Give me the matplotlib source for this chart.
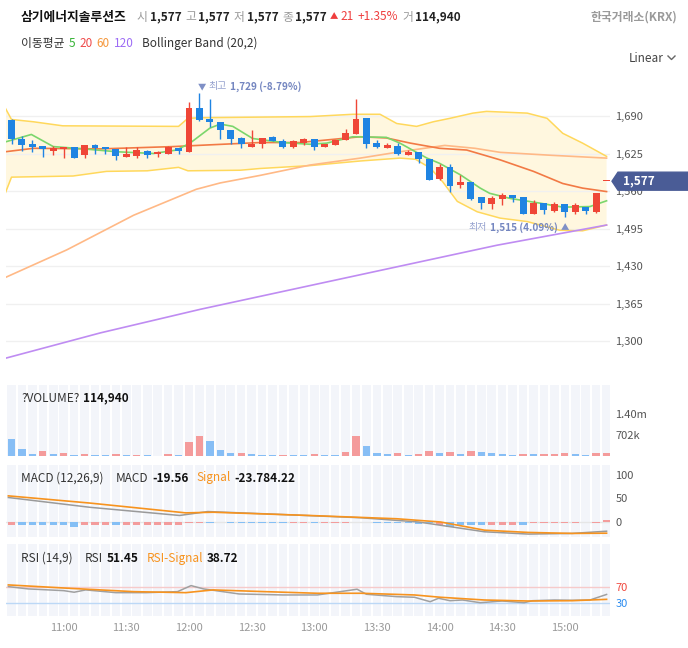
import matplotlib
matplotlib.use("Agg")
import matplotlib.pyplot as plt
from matplotlib.transforms import IdentityTransform
from matplotlib.patches import Polygon
from matplotlib.lines import Line2D
import numpy as np

plt.rcParams['font.family'] = ['Noto Sans CJK KR', 'DejaVu Sans']

# ---- data (5-minute candles, 10:35 .. 15:20) ----
opens = [1683, 1650, 1641, 1638, 1630, 1632, 1636, 1622, 1640, 1636,
         1632, 1619, 1621, 1629, 1625, 1625, 1635, 1628, 1704, 1684,
         1680, 1666, 1651, 1636, 1642, 1654, 1647, 1636, 1643, 1650,
         1636, 1640, 1648, 1659, 1687, 1643, 1634, 1638, 1622, 1628,
         1615, 1581, 1601, 1570, 1575, 1549, 1537, 1547, 1553, 1550,
         1520, 1539, 1525, 1538, 1524, 1533, 1524, 1577]
highs = [1685, 1656, 1648, 1638, 1638, 1636, 1636, 1639, 1641, 1636,
         1632, 1636, 1636, 1631, 1629, 1638, 1635, 1715, 1729, 1719,
         1680, 1666, 1654, 1665, 1652, 1656, 1651, 1648, 1652, 1650,
         1642, 1648, 1667, 1719, 1687, 1648, 1643, 1643, 1631, 1628,
         1615, 1606, 1606, 1587, 1575, 1549, 1551, 1556, 1553, 1550,
         1544, 1539, 1541, 1538, 1539, 1533, 1557, 1577]
lows = [1641, 1630, 1628, 1619, 1622, 1617, 1618, 1617, 1624, 1624,
        1614, 1619, 1618, 1617, 1619, 1625, 1625, 1628, 1681, 1671,
        1650, 1642, 1634, 1636, 1635, 1647, 1634, 1634, 1639, 1631,
        1636, 1640, 1648, 1659, 1634, 1634, 1634, 1622, 1622, 1609,
        1579, 1579, 1559, 1565, 1544, 1529, 1529, 1536, 1541, 1520,
        1520, 1520, 1523, 1515, 1520, 1520, 1522, 1577]
closes = [1650, 1640, 1636, 1633, 1635, 1636, 1618, 1639, 1635, 1632,
          1621, 1624, 1631, 1622, 1628, 1636, 1630, 1704, 1683, 1679,
          1665, 1651, 1641, 1642, 1652, 1647, 1636, 1647, 1650, 1637,
          1642, 1648, 1661, 1685, 1641, 1636, 1640, 1625, 1628, 1615,
          1579, 1601, 1569, 1576, 1547, 1539, 1548, 1553, 1548, 1521,
          1540, 1527, 1538, 1524, 1535, 1525, 1557, 1577]

# moving averages / bollinger band: (candle index, price)
ma5_x = [-0.6, 1.9, 4.0, 6.9, 10.1, 13.6, 15.8, 17.1, 19.0, 20.0, 21.2, 23.1, 26.0,
         28.6, 30.2, 32.7, 35.9, 37.2, 39.8, 41.0, 43.0, 44.9, 45.8, 47.8, 50.6,
         52.8, 55.4, 57.0]
ma5_y = [1645, 1658, 1637, 1633, 1628, 1625, 1631, 1643, 1669, 1676, 1672, 1651, 1644,
         1641, 1643, 1654, 1653, 1643, 1617, 1608, 1588, 1565, 1556, 1547, 1539,
         1532, 1533, 1543]
ma20_x = [-0.6, 2.1, 8.5, 15.5, 19.0, 23.8, 27.6, 33.4, 35.9, 38.2, 41.0, 43.6,
          46.8, 50.0, 52.8, 54.7, 57.0]
ma20_y = [1628, 1634, 1633, 1637, 1640, 1644, 1644, 1654, 1652, 1643, 1634, 1631,
          1614, 1594, 1573, 1565, 1559]
ma60_x = [-0.6, 5.3, 11.7, 17.7, 20.0, 23.8, 28.6, 33.4, 37.2, 41.5, 44.4, 46.8, 51.6, 57.0]
ma60_y = [1410, 1458, 1518, 1563, 1574, 1587, 1605, 1617, 1628, 1639, 1634, 1627, 1622, 1617]
ma120_x = [-0.6, 8.5, 18.1, 29.6, 46.5, 57.0]
ma120_y = [1270, 1314, 1355, 1400, 1466, 1501]
bb_up_x = [-0.6, 0.0, 2.1, 4.9, 16.0, 16.9, 18.1, 28.6, 32.7, 35.3, 36.9, 38.8, 40.4,
           42.0, 44.2, 45.5, 49.4, 51.3, 52.8, 54.7, 57.0]
bb_up_y = [1704, 1684, 1680, 1673, 1672, 1686, 1687, 1689, 1693, 1693, 1677, 1672, 1680,
           1686, 1695, 1698, 1695, 1686, 1660, 1643, 1620]
bb_lo_x = [-0.6, 0.0, 5.9, 9.1, 13.0, 16.0, 16.9, 21.9, 23.8, 28.6, 33.4, 37.2, 38.7,
           40.1, 41.3, 42.7, 44.6, 46.8, 49.4, 52.5, 54.7, 57.0]
bb_lo_y = [1556, 1584, 1586, 1594, 1595, 1601, 1595, 1596, 1599, 1604, 1612, 1617, 1615,
           1600, 1576, 1542, 1524, 1513, 1507, 1492, 1491, 1501]

volumes = [566, 227, 68, 170, 68, 102, 34, 68, 34, 34,
           68, 34, 34, 34, 8, 68, 34, 464, 678, 498,
           203, 112, 112, 78, 34, 34, 34, 34, 34, 68,
           34, 34, 136, 678, 329, 102, 68, 102, 34, 68,
           159, 102, 136, 68, 159, 136, 102, 68, 34, 68,
           68, 68, 68, 102, 68, 34, 102, 115]  # thousands
vol_colors = "BBBRBRBRBB" "RBRBBRBRRB" "BBRBBBRBBR" "BBRRBBBRBR" "RBRBRBBBBR" "BRRRBBRR"

macd_hist = [-6, -6, -6, -6, -6, -6, -10, -6, -6, -6,
             -6, -6, -6, -6, -6, -6, -6, -1.5, -1.5, -1.5,
             -0.5, -1.5, -1.5, -1.5, -1.5, -1.5, -1.5, -1.5, -1.5, -1.5,
             -1.5, -1.5, -1.5, -0.3, -0.3, -1.5, -1.5, -1.5, -2.5, -4,
             -2.5, -7, -10, -6, -6, -6, -6, -6, -6, -6,
             -2, -2, -2, -2, -2, -0.3, -1.5, 5]
hist_colors = "RBBBBBBRRR" "BRRRRRRRRB" "BBBBBBBRRB" "RRRRBBBBBB" "BRBBBBRRRB" "RRRRRRRR"
macd_x = [-0.3, 7.5, 16.1, 18.8, 24.3, 33.5, 39.0, 45.3, 49.5, 53.7, 57.0]
macd_y = [52.1, 31.3, 13.9, 22.2, 17.4, 9.0, 0.0, -20.8, -25.7, -24.3, -19.56]
signal_x = [-0.3, 7.5, 16.7, 19.3, 28.5, 36.9, 41.1, 45.3, 49.5, 53.7, 57.0]
signal_y = [55.6, 40.3, 19.4, 20.8, 13.9, 6.9, 0.0, -17.4, -22.2, -24.3, -23.8]

rsi_x = [-0.3, 1.6, 5.0, 6.0, 7.1, 10.0, 12.9, 15.9, 17.2, 18.4, 21.8, 26.0, 29.3,
         33.1, 34.0, 36.9, 38.6, 40.1, 40.9, 42.0, 43.2, 44.9, 47.0, 49.1, 49.9,
         52.0, 53.7, 55.4, 57.0]
rsi_y = [71.8, 65.8, 61.3, 57.2, 63.2, 56.1, 56.1, 58.7, 74.4, 65.8, 52.7, 50.1, 50.1,
         65.0, 51.9, 45.7, 44.1, 32.6, 41.5, 35.2, 37.0, 30.0, 34.4, 30.0, 35.2,
         37.0, 36.3, 37.0, 51.45]
rsi_sig_x = [-0.3, 5.4, 11.7, 16.7, 19.3, 24.3, 29.3, 33.5, 38.6, 41.1, 45.3, 49.5, 53.7, 57.0]
rsi_sig_y = [76.2, 67.6, 58.7, 56.1, 63.2, 58.7, 54.5, 54.5, 50.1, 44.1, 37.0, 34.4, 35.2, 38.72]

time_ticks = [5, 11, 17, 23, 29, 35, 41, 47, 53]
time_labels = ["11:00", "11:30", "12:00", "12:30", "13:00", "13:30", "14:00", "14:30", "15:00"]
price_ticks = [1300, 1365, 1430, 1495, 1560, 1625, 1690]
last_price = 1577

# ---- colours ----
UP, DOWN = '#ef4637', '#1f84e2'
VOL_UP, VOL_DN = '#f49b9b', '#87bef5'
STRIPE = '#f3f5fa'

W, H = 688, 648
fig = plt.figure(figsize=(6.88, 6.48), dpi=100)
renderer = fig.canvas.get_renderer()

X_LEFT, X_RIGHT = 6, 610
XMIN = (X_LEFT - 11.5) / 10.44
XMAX = (X_RIGHT - 11.5) / 10.44


def add_ax(top, bottom):
    ax = fig.add_axes([X_LEFT / W, 1 - bottom / H, (X_RIGHT - X_LEFT) / W, (bottom - top) / H])
    ax.set_xlim(XMIN, XMAX)
    for s in ax.spines.values():
        s.set_visible(False)
    ax.yaxis.tick_right()
    ax.tick_params(axis='y', length=0, pad=4, labelsize=8, labelcolor='#555555')
    ax.tick_params(axis='x', length=0, labelbottom=False)
    return ax


def stripes(ax, lo, hi):
    idx = np.arange(-1, len(closes) + 1)
    ax.bar(idx, hi - lo, bottom=lo, width=0.82, color=STRIPE, zorder=0)
    ax.set_ylim(lo, hi)


def row(x, y, pieces, ha='left', size=8.5):
    # pieces: (text, colour, weight, gap_after[, size])
    arts, cx = [], 0
    for p in pieces:
        s, col, wt, gap = p[:4]
        fs = p[4] if len(p) > 4 else size
        t = fig.text(0, 0, s, color=col, fontweight=wt, fontsize=fs, va='center',
                     ha='left', transform=IdentityTransform())
        w = t.get_window_extent(renderer).width
        arts.append((t, cx))
        cx += w + gap
    total = cx - pieces[-1][3]
    x0 = x - total if ha == 'right' else x
    for t, off in arts:
        t.set_position((x0 + off, H - y))


def to_ref(ax, x, y):
    dx, dy = ax.transData.transform((x, y))
    return dx, H - dy


# ---- price panel ----
ax = add_ax(72, 378)
ax.set_ylim(1690 - (378 - 116) * 390 / 225, 1690 + (116 - 72) * 390 / 225)
ax.set_yticks(price_ticks)
ax.set_yticklabels([f"{v:,}" for v in price_ticks])
for v in price_ticks:
    ax.axhline(v, color='#f0f0f0', lw=1, zorder=1.5)

ax.fill(bb_up_x + bb_lo_x[::-1], bb_up_y + bb_lo_y[::-1], color='#fff7df', lw=0, zorder=1)
ax.plot(bb_up_x, bb_up_y, color='#ffd85c', lw=1.1, zorder=2)
ax.plot(bb_lo_x, bb_lo_y, color='#ffd85c', lw=1.1, zorder=2)
ax.plot(ma120_x, ma120_y, color='#bf8cf2', lw=1.2, zorder=2)
ax.plot(ma60_x, ma60_y, color='#ffb986', lw=1.2, zorder=2)
ax.plot(ma20_x, ma20_y, color='#f27a45', lw=1.2, zorder=2.2)
ax.plot(ma5_x, ma5_y, color='#7bd66c', lw=1.2, zorder=2.3)

o, h, l, c = map(np.array, (opens, highs, lows, closes))
x = np.arange(len(c))
cols = np.where(c >= o, UP, DOWN)
ax.vlines(x, l, h, colors=cols, lw=1, zorder=4)
ax.bar(x, np.maximum(np.abs(c - o), 2), bottom=np.minimum(o, c), width=0.66,
       color=cols, zorder=5)

# high / low labels
hi_i = int(np.argmax(h))
lo_i = int(np.argmin(l))
hx, hy = to_ref(ax, hi_i, h[hi_i])
row(hx - 2, hy - 7, [("▼", '#7f90c6', 'normal', 3, 6), ("최고", '#97a3cf', 'normal', 3),
                     (f"{h[hi_i]:,} (-8.79%)", '#7486c0', 'bold', 0)], size=7.2)
lx, ly = to_ref(ax, lo_i, l[lo_i])
row(lx + 4, ly + 10.5, [("최저", '#97a3cf', 'normal', 3),
                        (f"{l[lo_i]:,} (4.09%)", '#7486c0', 'bold', 3),
                        ("▲", '#7f90c6', 'normal', 0, 6)], ha='right', size=7.2)

# current price tag
_, ty = to_ref(ax, 0, last_price)
tag = [(612, ty), (618, ty - 9), (688, ty - 9), (688, ty + 9), (618, ty + 9)]
fig.add_artist(Polygon([(px, H - py) for px, py in tag], closed=True, color='#4a5c96',
                       transform=IdentityTransform(), zorder=10))
fig.text(623, H - ty, f"{last_price:,}", color='white', fontweight='bold', fontsize=8.5,
         va='center', ha='left', transform=IdentityTransform(), zorder=11)

# ---- volume ----
axv = add_ax(385, 456)
stripes(axv, 0, 71 * 33.6)
vcols = [VOL_UP if k == 'R' else VOL_DN for k in vol_colors]
axv.bar(x, volumes, width=0.7, color=vcols, zorder=2)
axv.set_yticks([702, 1404])
axv.set_yticklabels(["702k", "1.40m"])

# ---- MACD ----
axm = add_ax(465, 537)
stripes(axm, -15 / 0.47, 57 / 0.47)
axm.axhline(0, color='#e6e6e6', lw=1, zorder=1)
hcols = ['#f39c9c' if k == 'R' else '#84bff5' for k in hist_colors]
axm.bar(x, macd_hist, width=0.7, color=hcols, zorder=2)
axm.plot(macd_x, macd_y, color='#9a9a9a', lw=1.1, zorder=3)
axm.plot(signal_x, signal_y, color='#f7931e', lw=1.2, zorder=3)
axm.set_yticks([0, 50, 100])

# ---- RSI ----
axr = add_ax(544, 616)
stripes(axr, 30 - 13.3 / 0.385, 30 + 58.7 / 0.385)
axr.axhline(70, color='#f6caca', lw=1, zorder=1)
axr.axhline(30, color='#bcd8f6', lw=1, zorder=1)
axr.plot(rsi_x, rsi_y, color='#a0a0a0', lw=1.1, zorder=3)
axr.plot(rsi_sig_x, rsi_sig_y, color='#f7931e', lw=1.2, zorder=3)
axr.set_yticks([30, 70])
axr.set_yticklabels(["30", "70"])
for lab, col in zip(axr.get_yticklabels(), ['#2b8cf0', '#f0483e']):
    lab.set_color(col)
axr.set_xticks(time_ticks)
axr.set_xticklabels(time_labels)
axr.tick_params(axis='x', labelbottom=True, labelsize=8, labelcolor='#999999', pad=5)

# ---- header texts ----
G, K, R = '#9a9a9a', '#222222', '#ef3e3e'
row(21, 17, [("삼기에너지솔루션즈", '#111111', 'bold', 10, 9.2),
             ("시", G, 'normal', 2), ("1,577", K, 'bold', 4),
             ("고", G, 'normal', 2), ("1,577", K, 'bold', 4),
             ("저", G, 'normal', 2), ("1,577", K, 'bold', 4),
             ("종", G, 'normal', 2), ("1,577", K, 'bold', 2),
             ("▲", R, 'normal', 3, 6), ("21", R, 'normal', 4), ("+1.35%", R, 'normal', 4),
             ("거", G, 'normal', 2), ("114,940", K, 'bold', 0)])
row(677, 17, [("한국거래소(KRX)", '#9a9a9a', 'bold', 0)], ha='right')
row(21, 43.5, [("이동평균", '#333333', 'normal', 4), ("5", '#36b336', 'normal', 4),
               ("20", '#ef4a4a', 'normal', 4), ("60", '#f5973b', 'normal', 4),
               ("120", '#9d6cf5', 'normal', 9), ("Bollinger Band (20,2)", '#333333', 'normal', 0)])
row(629, 58, [("Linear", '#444444', 'normal', 0)])
fig.add_artist(Line2D([668, 671.5, 675], [H - 56, H - 59.5, H - 56], color='#666666', lw=1,
                      transform=IdentityTransform()))

row(21, 398, [("?VOLUME?", '#333333', 'normal', 4), ("114,940", '#111111', 'bold', 0)])
row(21, 478, [("MACD (12,26,9)", '#333333', 'normal', 12), ("MACD", '#333333', 'normal', 4),
              ("-19.56", '#111111', 'bold', 8), ("Signal", '#f7931e', 'normal', 4),
              ("-23.784.22", '#111111', 'bold', 0)])
row(21, 558.5, [("RSI (14,9)", '#333333', 'normal', 12), ("RSI", '#333333', 'normal', 4),
                ("51.45", '#111111', 'bold', 8), ("RSI-Signal", '#f7931e', 'normal', 4),
                ("38.72", '#111111', 'bold', 0)])

fig.savefig("out.png", dpi=100)
